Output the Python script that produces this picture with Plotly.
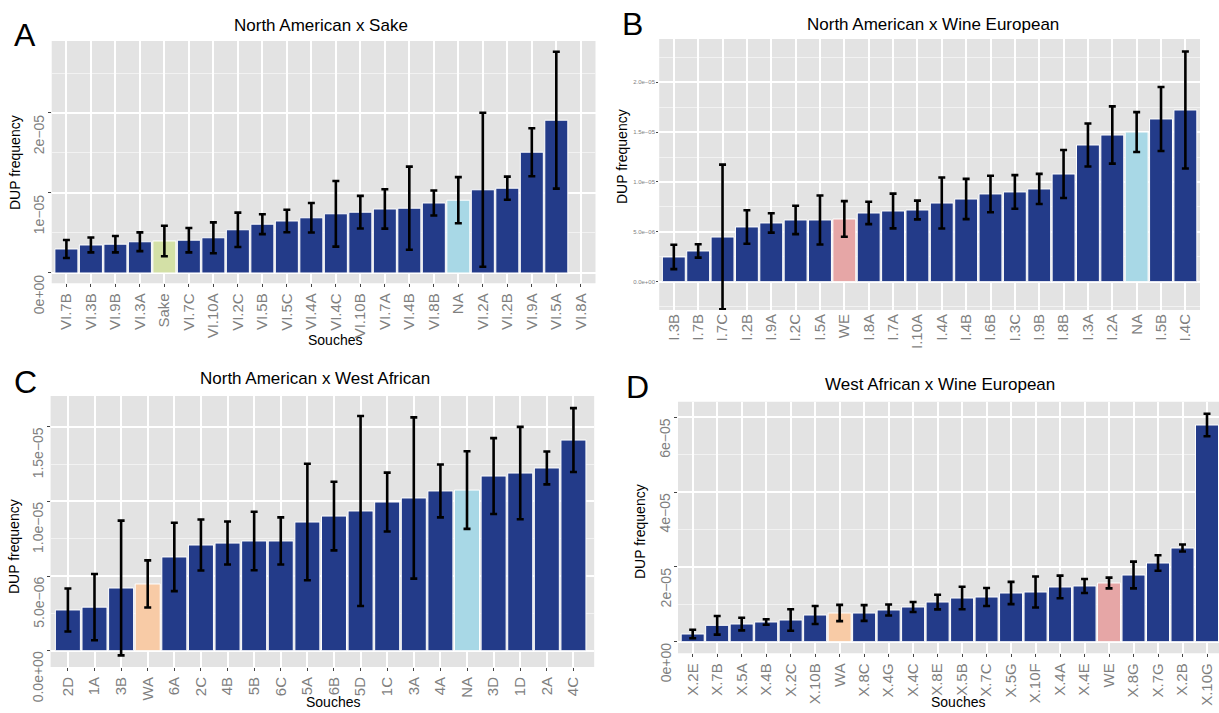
import plotly.graph_objects as go

W, H = 1219, 713

NAVY = "#233B89"
HIGHLIGHT = {"Sake": "#D3E0A6", "NA": "#A8D8E6", "WE": "#E6A6A6", "WA": "#F8CBA6"}

# ---- Panel A: North American x Sake ----
strains_a = ["VI.7B", "VI.3B", "VI.9B", "VI.3A", "Sake", "VI.7C", "VI.10A", "VI.2C",
             "VI.5B", "VI.5C", "VI.4A", "VI.4C", "VI.10B", "VI.7A", "VI.4B", "VI.8B",
             "NA", "VI.2A", "VI.2B", "VI.9A", "VI.5A", "VI.8A"]
mean_a = [3.0e-6, 3.5e-6, 3.6e-6, 3.9e-6, 4.0e-6, 4.1e-6, 4.4e-6, 5.4e-6,
          6.1e-6, 6.5e-6, 6.9e-6, 7.4e-6, 7.6e-6, 8.0e-6, 8.1e-6, 8.75e-6,
          9.1e-6, 1.04e-5, 1.06e-5, 1.51e-5, 1.91e-5, None]
sd_a = [1.13e-6, 0.93e-6, 1.03e-6, 1.17e-6, 1.9e-6, 1.53e-6, 1.93e-6, 2.15e-6,
        1.24e-6, 1.4e-6, 1.84e-6, 4.1e-6, 2.04e-6, 2.46e-6, 5.2e-6, 1.57e-6,
        2.88e-6, 9.63e-6, 1.44e-6, 3.0e-6, 8.55e-6, None]

# ---- Panel B: North American x Wine European ----
strains_b = ["I.3B", "I.7B", "I.7C", "I.2B", "I.9A", "I.2C", "I.5A", "WE", "I.8A",
             "I.7A", "I.10A", "I.4A", "I.4B", "I.6B", "I.3C", "I.9B", "I.8B", "I.3A",
             "I.2A", "NA", "I.5B", "I.4C"]
mean_b = [2.48e-6, 3.08e-6, 4.48e-6, 5.49e-6, 5.89e-6, 6.19e-6, 6.19e-6, 6.29e-6,
          6.89e-6, 7.09e-6, 7.19e-6, 7.89e-6, 8.29e-6, 8.8e-6, 9.0e-6, 9.3e-6,
          1.08e-5, 1.371e-5, 1.471e-5, 1.501e-5, 1.632e-5, 1.722e-5]
sd_b = [1.22e-6, 0.67e-6, 7.26e-6, 1.68e-6, 0.97e-6, 1.42e-6, 2.46e-6, 1.79e-6,
        1.12e-6, 1.74e-6, 0.94e-6, 2.56e-6, 2.02e-6, 1.83e-6, 1.69e-6, 1.51e-6,
        2.41e-6, 2.16e-6, 2.87e-6, 2.0e-6, 3.21e-6, 5.87e-6]

# ---- Panel C: North American x West African ----
strains_c = ["2D", "1A", "3B", "WA", "6A", "2C", "4B", "5B", "6C", "5A", "6B", "5D",
             "1C", "3A", "4A", "NA", "3D", "1D", "2A", "4C"]
mean_c = [2.73e-6, 2.92e-6, 4.2e-6, 4.47e-6, 6.28e-6, 7.08e-6, 7.21e-6, 7.35e-6,
          7.35e-6, 8.62e-6, 9.02e-6, 9.36e-6, 9.96e-6, 1.023e-5, 1.07e-5, 1.076e-5,
          1.17e-5, 1.19e-5, 1.224e-5, 1.411e-5]
sd_c = [1.44e-6, 2.22e-6, 4.51e-6, 1.58e-6, 2.29e-6, 1.71e-6, 1.44e-6, 1.96e-6,
        1.58e-6, 3.9e-6, 2.3e-6, 6.36e-6, 1.97e-6, 5.4e-6, 1.77e-6, 2.6e-6,
        2.54e-6, 3.09e-6, 1.1e-6, 2.14e-6]

# ---- Panel D: West African x Wine European ----
strains_d = ["X.2E", "X.7B", "X.5A", "X.4B", "X.2C", "X.10B", "WA", "X.8C", "X.4G",
             "X.4C", "X.8E", "X.5B", "X.7C", "X.5G", "X.10F", "X.4A", "X.4E", "WE",
             "X.8G", "X.7G", "X.2B", "X.10G"]
mean_d = [2.06e-6, 4.38e-6, 4.73e-6, 5.27e-6, 5.8e-6, 7.14e-6, 7.67e-6, 7.67e-6,
          8.48e-6, 9.28e-6, 1.061e-5, 1.168e-5, 1.195e-5, 1.302e-5, 1.329e-5,
          1.463e-5, 1.49e-5, 1.57e-5, 1.783e-5, 2.104e-5, 2.505e-5, 5.794e-5]
sd_d = [1.12e-6, 2.49e-6, 1.69e-6, 0.72e-6, 2.89e-6, 2.4e-6, 2.18e-6, 2.1e-6,
        1.47e-6, 1.34e-6, 1.96e-6, 3.0e-6, 2.41e-6, 2.98e-6, 4.15e-6, 3.03e-6,
        1.88e-6, 1.43e-6, 3.57e-6, 2.06e-6, 0.94e-6, 3.0e-6]

PANELS = [
    dict(letter="A", title="North American x Sake", cats=strains_a, y=mean_a, sd=sd_a,
         xpx=(51.7, 595.5), ypx=(41, 283.3), xr=(-0.6, 21.6), yr=(-0.129e-5, 2.9e-5),
         dtick=1e-5, minor=0.5e-5, fmt="%.0e", small=False, souches=True,
         letter_xy=(25, 35), title_xy=(321, 25), ylab_xy=(15, 163), xlab_xy=(335, 340)),
    dict(letter="B", title="North American x Wine European", cats=strains_b, y=mean_b, sd=sd_b,
         xpx=(659.2, 1200), ypx=(39, 310), xr=(-0.6, 21.6), yr=(-0.284e-5, 2.434e-5),
         dtick=5e-6, minor=2.5e-6, fmt="%.1e", small=True, souches=False,
         letter_xy=(632, 24), title_xy=(933, 24), ylab_xy=(622, 157), xlab_xy=None),
    dict(letter="C", title="North American x West African", cats=strains_c, y=mean_c, sd=sd_c,
         xpx=(50.6, 594.2), ypx=(396, 667), xr=(-0.65, 19.78), yr=(-0.109e-5, 1.706e-5),
         dtick=5e-6, minor=2.5e-6, fmt="%.1e", small=False, souches=True,
         letter_xy=(25, 382), title_xy=(315, 379), ylab_xy=(14, 547), xlab_xy=(333, 702)),
    dict(letter="D", title="West African x Wine European", cats=strains_d, y=mean_d, sd=sd_d,
         xpx=(678, 1219), ypx=(401.7, 653.3), xr=(-0.6, 21.49), yr=(-0.31e-5, 6.417e-5),
         dtick=2e-5, minor=1e-5, fmt="%.0e", small=False, souches=True,
         letter_xy=(637, 387), title_xy=(940, 384), ylab_xy=(640, 532), xlab_xy=(958, 702)),
]

FONT = "Liberation Sans, Arial, sans-serif"
TICK_GREY = "#7f7f7f"


def px_x(v):
    return v / W


def px_y(v):
    return 1 - v / H


def sci_label(v, fmt):
    return (fmt % v).replace("e-", "e\u2212")


fig = go.Figure()
annotations = []
layout = {}

for i, p in enumerate(PANELS, start=1):
    xa = "x" if i == 1 else f"x{i}"
    ya = "y" if i == 1 else f"y{i}"
    colors = [HIGHLIGHT.get(c, NAVY) for c in p["cats"]]
    fig.add_trace(go.Bar(
        x=p["cats"], y=p["y"], xaxis=xa, yaxis=ya,
        width=0.94,
        marker=dict(color=colors, line=dict(color="white", width=1)),
        error_y=dict(type="data", array=p["sd"], visible=True,
                     color="black", thickness=2.6, width=3.5),
        showlegend=False, hoverinfo="x+y",
    ))

    lo, hi = p["yr"]
    ticks = []
    t = 0.0
    while t <= hi + 1e-12:
        ticks.append(t)
        t += p["dtick"]
    labels = [sci_label(v, p["fmt"]) for v in ticks]

    xkey = "xaxis" if i == 1 else f"xaxis{i}"
    ykey = "yaxis" if i == 1 else f"yaxis{i}"
    layout[xkey] = dict(
        domain=[px_x(p["xpx"][0]), px_x(p["xpx"][1])],
        anchor=ya, type="category", range=list(p["xr"]),
        categoryorder="array", categoryarray=p["cats"],
        showgrid=True, gridcolor="white", gridwidth=1.6,
        tickangle=-90, tickfont=dict(family=FONT, size=15, color=TICK_GREY),
        ticks="" if p["small"] else "outside", ticklen=3, tickwidth=1.4,
        tickcolor="#444", showline=False, zeroline=False, fixedrange=True,
    )
    layout[ykey] = dict(
        domain=[px_y(p["ypx"][1]), px_y(p["ypx"][0])],
        anchor=xa, range=[lo, hi],
        tickmode="array", tickvals=ticks, ticktext=labels,
        showticklabels=p["small"],
        showgrid=True, gridcolor="white", gridwidth=1.6,
        minor=dict(showgrid=True, gridcolor="#f2f2f2", gridwidth=0.8,
                   tickmode="linear", tick0=0, dtick=p["minor"], ticks=""),
        tickfont=dict(family=FONT, size=6, color=TICK_GREY),
        ticks="outside", ticklen=3 if not p["small"] else 2, tickwidth=1.4,
        tickcolor="#444", zeroline=False, showline=False, fixedrange=True,
    )

    # rotated y tick labels hanging below their tick, ggplot style
    if not p["small"]:
        for v, lab in zip(ticks, labels):
            annotations.append(dict(
                text=lab, x=px_x(p["xpx"][0] - 3.5), y=v, xref="paper", yref=ya,
                showarrow=False, textangle=-90, xanchor="right", yanchor="top",
                borderpad=0, font=dict(family=FONT, size=14, color=TICK_GREY)))

    fig.add_shape(type="rect", xref="paper", yref="paper",
                  x0=px_x(p["xpx"][0]), x1=px_x(p["xpx"][1]),
                  y0=px_y(p["ypx"][1]), y1=px_y(p["ypx"][0]),
                  fillcolor="#E3E3E3", line=dict(width=0), layer="below")

    lx, ly = p["letter_xy"]
    annotations.append(dict(text=p["letter"], x=px_x(lx), y=px_y(ly), xref="paper",
                            yref="paper", showarrow=False, xanchor="center",
                            yanchor="middle", font=dict(family=FONT, size=32, color="black")))
    tx, ty = p["title_xy"]
    annotations.append(dict(text=p["title"], x=px_x(tx), y=px_y(ty), xref="paper",
                            yref="paper", showarrow=False, xanchor="center",
                            yanchor="middle", font=dict(family=FONT, size=17, color="black")))
    yx, yy = p["ylab_xy"]
    annotations.append(dict(text="DUP frequency", x=px_x(yx), y=px_y(yy), xref="paper",
                            yref="paper", showarrow=False, textangle=-90,
                            xanchor="center", yanchor="middle",
                            font=dict(family=FONT, size=14, color="black")))
    if p["souches"]:
        sx, sy = p["xlab_xy"]
        annotations.append(dict(text="Souches", x=px_x(sx), y=px_y(sy), xref="paper",
                                yref="paper", showarrow=False, xanchor="center",
                                yanchor="middle", borderpad=0,
                                font=dict(family=FONT, size=14, color="black")))

fig.update_layout(
    width=W, height=H,
    margin=dict(l=0, r=0, t=0, b=0),
    paper_bgcolor="white", plot_bgcolor="rgba(0,0,0,0)",
    annotations=annotations,
    **layout,
)

fig.write_html("out.html")
